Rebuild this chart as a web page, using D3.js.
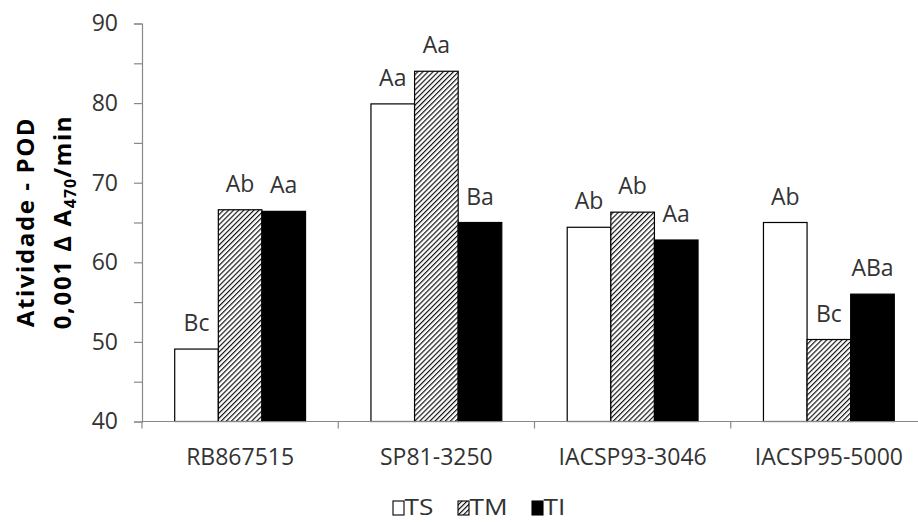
<!DOCTYPE html>
<html>
<head>
<meta charset="utf-8">
<script src="https://cdn.jsdelivr.net/npm/d3@7"></script>
<style>
  html, body { margin: 0; padding: 0; background: #fff; }
  svg { display: block; font-family: "Open Sans", "Noto Sans", sans-serif; }
</style>
</head>
<body>
<svg id="chart" width="918" height="522"></svg>
<script>
// POD activity per cultivar and treatment
const cultivars = ["RB867515", "SP81-3250", "IACSP93-3046", "IACSP95-5000"];
const treatments = ["TS", "TM", "TI"];
const valuesTS = [49.1, 79.9, 64.4, 65.0];
const valuesTM = [66.6, 84.0, 66.3, 50.3];
const valuesTI = [66.4, 65.0, 62.8, 56.0];
const lettersTS = ["Bc", "Aa", "Ab", "Ab"];
const lettersTM = ["Ab", "Aa", "Ab", "Bc"];
const lettersTI = ["Aa", "Ba", "Aa", "ABa"];
const yTicks = [40, 50, 60, 70, 80, 90];

const seriesValues = { TS: valuesTS, TM: valuesTM, TI: valuesTI };
const seriesLetters = { TS: lettersTS, TM: lettersTM, TI: lettersTI };

const rows = [];
cultivars.forEach((c, i) => {
  treatments.forEach(t => {
    rows.push({ cultivar: c, treatment: t, value: seriesValues[t][i], letter: seriesLetters[t][i] });
  });
});

const svg = d3.select("#chart");
const plotLeft = 142, plotRight = 927, plotTop = 23.5, plotBottom = 421.5;
const textColor = "#333";

const x0 = d3.scaleBand().domain(cultivars).range([plotLeft, plotRight]).paddingInner(0).paddingOuter(0);
const bw = x0.bandwidth();
const barW = bw / 4.5;
const x1 = d3.scaleBand().domain(treatments)
  .range([barW * 0.75, barW * 3.75]).padding(0);
const y = d3.scaleLinear().domain([40, 90]).range([plotBottom, plotTop]);

// hatch for TM
const defs = svg.append("defs");
defs.append("pattern")
  .attr("id", "hatch")
  .attr("patternUnits", "userSpaceOnUse")
  .attr("width", 3.6).attr("height", 3.6)
  .attr("patternTransform", "rotate(45)")
  .call(p => {
    p.append("rect").attr("width", 3.6).attr("height", 3.6).attr("fill", "#fff");
    p.append("line").attr("x1", 0.6).attr("y1", 0).attr("x2", 0.6).attr("y2", 3.6)
      .attr("stroke", "#000").attr("stroke-width", 1.1);
  });

const fillOf = t => t === "TS" ? "#fff" : t === "TM" ? "url(#hatch)" : "#000";

// bars
svg.append("g").selectAll("rect")
  .data(rows)
  .join("rect")
  .attr("x", d => x0(d.cultivar) + x1(d.treatment))
  .attr("y", d => y(d.value))
  .attr("width", x1.bandwidth())
  .attr("height", d => y(40) - y(d.value))
  .attr("fill", d => fillOf(d.treatment))
  .attr("stroke", "#000")
  .attr("stroke-width", 1.2);

// letters above bars
svg.append("g").selectAll("text")
  .data(rows)
  .join("text")
  .attr("x", d => x0(d.cultivar) + x1(d.treatment) + x1.bandwidth() / 2)
  .attr("y", d => y(d.value) - 18)
  .attr("text-anchor", "middle")
  .attr("font-size", 23)
  .attr("fill", textColor)
  .text(d => d.letter);

// y axis
const yAxis = d3.axisLeft(y)
  .tickValues(d3.range(40, 90.1, 5))
  .tickSize(8)
  .tickPadding(16)
  .tickFormat(d => yTicks.includes(d) ? d : "");
const gy = svg.append("g").attr("transform", `translate(${plotLeft},0)`).call(yAxis);
gy.select(".domain").attr("stroke", "#888").attr("stroke-width", 1.2);
gy.selectAll(".tick line").attr("stroke", "#888").attr("stroke-width", 1.2);
gy.selectAll(".tick text").attr("font-size", 23).attr("fill", textColor)
  .attr("font-family", "'Open Sans', sans-serif");

// x axis with ticks at band edges
const gx = svg.append("g").attr("transform", `translate(0,${plotBottom})`);
gx.append("line").attr("x1", plotLeft).attr("x2", plotRight).attr("y1", 0).attr("y2", 0)
  .attr("stroke", "#888").attr("stroke-width", 1.2);
gx.selectAll("line.edge")
  .data(cultivars)
  .join("line")
  .attr("class", "edge")
  .attr("x1", d => x0(d)).attr("x2", d => x0(d))
  .attr("y1", 0).attr("y2", 7)
  .attr("stroke", "#888").attr("stroke-width", 1.2);
gx.selectAll("text")
  .data(cultivars)
  .join("text")
  .attr("x", d => x0(d) + bw / 2)
  .attr("y", 43)
  .attr("text-anchor", "middle")
  .attr("font-size", 23)
  .attr("fill", textColor)
  .text(d => d);

// y axis title
const title = svg.append("g").attr("transform", "translate(0,222) rotate(-90)")
  .attr("font-weight", "bold").attr("font-size", 24).attr("fill", "#000")
  .attr("letter-spacing", 1.6)
  .attr("text-anchor", "middle");
title.append("text").attr("x", 0).attr("y", 34).text("Atividade - POD");
const t2 = title.append("text").attr("x", 0).attr("y", 71);
t2.append("tspan").text("0,001 Δ A");
t2.append("tspan").attr("font-size", 16).attr("letter-spacing", 1).attr("dy", 5).text("470");
t2.append("tspan").attr("dy", -5).text("/min");

// legend
const legend = svg.append("g");
const legendX = [393, 458, 532];
treatments.forEach((t, i) => {
  legend.append("rect")
    .attr("x", legendX[i]).attr("y", 501)
    .attr("width", 11).attr("height", 14)
    .attr("fill", fillOf(t)).attr("stroke", "#000").attr("stroke-width", 1.1);
  legend.append("text")
    .attr("transform", `translate(${legendX[i] + 11.5},515) scale(1.25,1)`)
    .attr("font-size", 21).attr("fill", textColor)
    .text(t);
});
</script>
</body>
</html>
